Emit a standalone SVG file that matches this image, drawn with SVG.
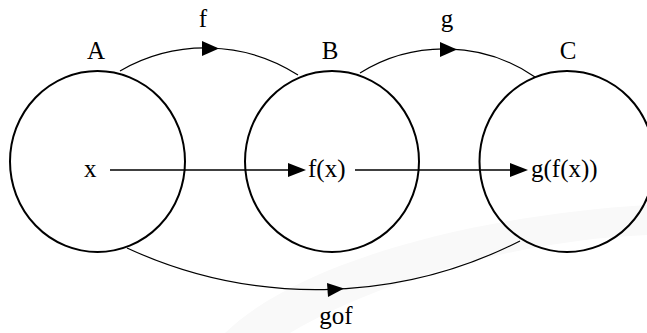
<svg xmlns="http://www.w3.org/2000/svg" width="647" height="333" viewBox="0 0 647 333" font-family="Liberation Serif, DejaVu Serif, serif" font-size="25">
<style>
.set{fill:none;stroke:#000;stroke-width:2}
.arc{fill:none;stroke:#000;stroke-width:1.2}
.ln{fill:none;stroke:#000;stroke-width:1.5}
.hd{fill:#000}
</style>
<rect width="647" height="333" fill="#fff"/>
<path d="M225,333 C300,260 480,215 647,205 L647,235 C520,240 380,280 290,333 Z" fill="#f9f9f9"/>
<g id="A">
<ellipse class="set" cx="97.5" cy="161.5" rx="87.5" ry="90.5"/>
<text x="96" y="59" text-anchor="middle">A</text>
<text x="84" y="177">x</text>
</g>
<g id="B">
<ellipse class="set" cx="332" cy="161.5" rx="87" ry="90.5"/>
<text x="330" y="59" text-anchor="middle">B</text>
<text x="308" y="177">f(x)</text>
</g>
<g id="C">
<ellipse class="set" cx="567" cy="161.5" rx="87.5" ry="90.5"/>
<text x="568" y="59" text-anchor="middle">C</text>
<text x="531" y="177">g(f(x))</text>
</g>
<g id="connectors">
<path class="arc" d="M120,71 A171,171 0 0 1 298,75"/>
<polygon class="hd" points="202,41 219,48.5 202,56"/>
<text x="203" y="27" text-anchor="middle">f</text>
<path class="arc" d="M360,73 A160,160 0 0 1 535,77"/>
<polygon class="hd" points="440,42 457,49.5 440,57"/>
<text x="447" y="27" text-anchor="middle">g</text>
<path class="arc" d="M127,248 A451,451 0 0 0 520,241"/>
<polygon class="hd" points="327,283 344,288.5 328,297"/>
<text x="336" y="324" text-anchor="middle">gof</text>
<line class="ln" x1="110" y1="170" x2="290" y2="170"/>
<polygon class="hd" points="288,163 306,170 288,177"/>
<line class="ln" x1="355" y1="170" x2="512" y2="170"/>
<polygon class="hd" points="510,163 528,170 510,177"/>
</g>
</svg>
